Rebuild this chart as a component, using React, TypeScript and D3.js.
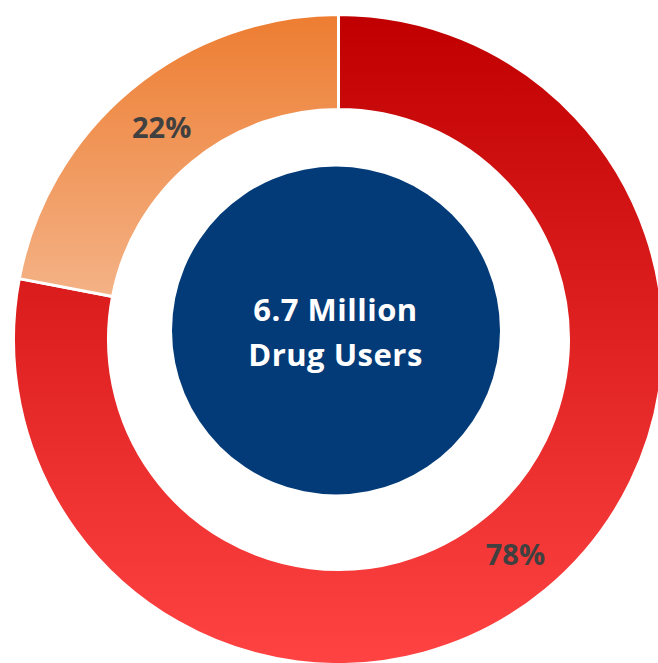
import React from "react";
import * as d3 from "d3";

const categories = ["Group A", "Group B"];
const values = [78, 22];
const labels = ["78%", "22%"];
const centerLines = ["6.7 Million", "Drug Users"];

const W = 658;
const H = 663;
const cx = 338.5;
const cy = 339.5;
const outerR = 325;
const innerR = 230;

const gradients = [
  { id: "gRed", top: "#C00000", bottom: "#FF4343" },
  { id: "gOrange", top: "#ED7D31", bottom: "#F4B286" },
];

export default function App() {
  const pie = d3.pie<number>().sort(null).value((d) => d)(values);
  const arc = d3.arc<d3.PieArcDatum<number>>().innerRadius(innerR).outerRadius(outerR);
  const font = "'Open Sans', sans-serif";
  return (
    <svg width={W} height={H} style={{ position: "absolute", left: 0, top: 0 }}>
      <defs>
        {gradients.map((g) => (
          <linearGradient key={g.id} id={g.id} x1="0" y1="0" x2="0" y2="1">
            <stop offset="0" stopColor={g.top} />
            <stop offset="1" stopColor={g.bottom} />
          </linearGradient>
        ))}
      </defs>
      <g transform={`translate(${cx},${cy})`}>
        {pie.map((p, i) => (
          <path
            key={categories[i]}
            d={arc(p) || ""}
            fill={`url(#${gradients[i].id})`}
            stroke="#fff"
            strokeWidth={3}
          />
        ))}
        {pie.map((p, i) => {
          const [x, y] = arc.centroid(p);
          return (
            <text
              key={"l" + i}
              x={x}
              y={y}
              dy={12}
              textAnchor="middle"
              fontFamily={font}
              fontWeight="bold"
              fontSize={29}
              fill="#404040"
            >
              {labels[i]}
            </text>
          );
        })}
      </g>
      <circle cx={336} cy={330.5} r={164} fill="#033B78" />
      {centerLines.map((t, i) => (
        <text
          key={t}
          x={335.5}
          y={321 + i * 45}
          textAnchor="middle"
          fontFamily={font}
          fontWeight="bold"
          fontSize={31}
          letterSpacing={0.5}
          fill="#fff"
        >
          {t}
        </text>
      ))}
    </svg>
  );
}
